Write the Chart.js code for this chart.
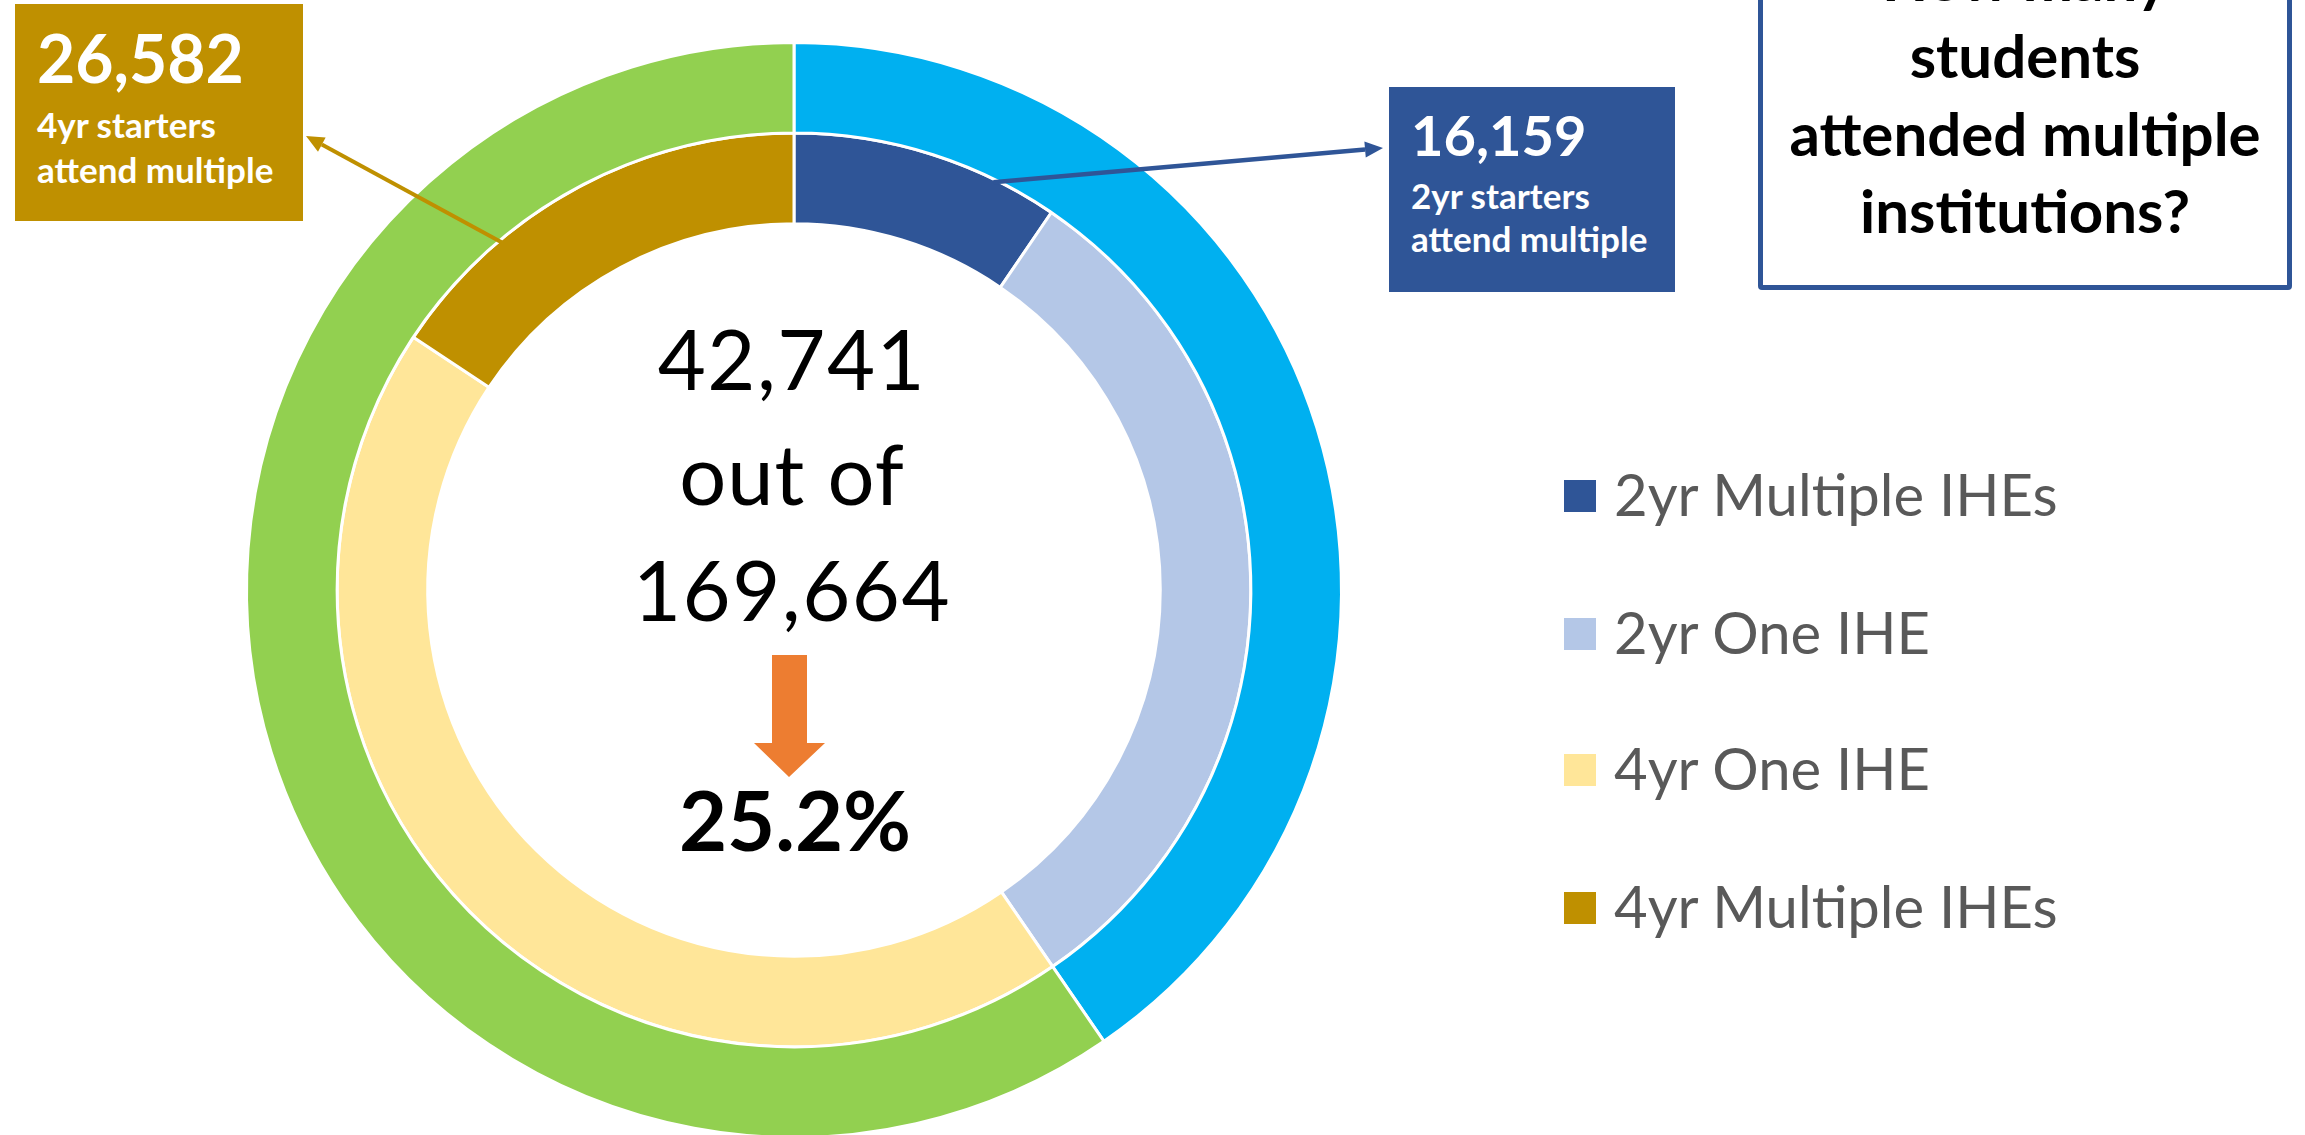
<!DOCTYPE html>
<html>
<head>
<meta charset="utf-8">
<title>Students attending multiple institutions</title>
<script src="https://cdn.jsdelivr.net/npm/chart.js@4.4.1/dist/chart.umd.min.js"></script>
<style>
  html, body { margin: 0; padding: 0; background: #fff; overflow: hidden; }
  #wrap { position: relative; width: 2305px; height: 1135px; overflow: hidden;
          font-family: Lato, "Open Sans", sans-serif; }
  #wrap canvas { position: absolute; left: 0; top: 0; }
  .t { position: absolute; white-space: nowrap; line-height: 1.2; }
  .box { position: absolute; box-sizing: border-box; }
</style>
</head>
<body>
<div id="wrap">
  <canvas id="myChart" width="2305" height="1200"></canvas>
</div>
<script>
// outer ring: where students started
var outerLabels = ['2yr starters', '4yr starters'];
var outerValues = [68580, 101084];
var outerColors = ['#00B0F0', '#92D050'];

// inner ring: one vs multiple institutions
var innerLabels = ['2yr Multiple IHEs', '2yr One IHE', '4yr One IHE', '4yr Multiple IHEs'];
var innerValues = [16159, 52421, 74502, 26582];
var innerColors = ['#2F5597', '#B4C7E7', '#FFE699', '#BF9000'];

var questionLines = ['How many', 'students', 'attended multiple', 'institutions?'];

var wrap = document.getElementById('wrap');

function fmt(n) { return n.toLocaleString('en-US'); }

// place a line of text by its baseline (Lato ascent ~0.987em at line-height 1.2)
function txt(s, x, base, size, weight, color, align, spacing) {
  var d = document.createElement('div');
  d.className = 't';
  d.textContent = s;
  d.style.fontSize = size + 'px';
  d.style.fontWeight = weight;
  d.style.color = color;
  if (spacing) d.style.letterSpacing = spacing + 'px';
  d.style.top = (base - 0.987 * size) + 'px';
  if (align == 'center') {
    d.style.left = (x - 600) + 'px';
    d.style.width = '1200px';
    d.style.textAlign = 'center';
  } else {
    d.style.left = x + 'px';
  }
  wrap.appendChild(d);
  return d;
}

function box(x, y, w, h, css) {
  var d = document.createElement('div');
  d.className = 'box';
  d.style.left = x + 'px';
  d.style.top = y + 'px';
  d.style.width = w + 'px';
  d.style.height = h + 'px';
  for (var k in css) d.style[k] = css[k];
  wrap.appendChild(d);
  return d;
}

function arrowFrom(ctx, arc, frac, tip, color, lw) {
  var a = arc.startAngle + frac * (arc.endAngle - arc.startAngle);
  var r = arc.outerRadius - 3;
  var sx = arc.x + r * Math.cos(a), sy = arc.y + r * Math.sin(a);
  var ang = Math.atan2(tip[1] - sy, tip[0] - sx);
  var hl = 18, hw = 8;
  var bx = tip[0] - hl * Math.cos(ang), by = tip[1] - hl * Math.sin(ang);
  ctx.save();
  ctx.strokeStyle = color;
  ctx.fillStyle = color;
  ctx.lineWidth = lw;
  ctx.beginPath();
  ctx.moveTo(sx, sy);
  ctx.lineTo(bx, by);
  ctx.stroke();
  ctx.beginPath();
  ctx.moveTo(tip[0], tip[1]);
  ctx.lineTo(bx + hw * Math.sin(ang), by - hw * Math.cos(ang));
  ctx.lineTo(bx - hw * Math.sin(ang), by + hw * Math.cos(ang));
  ctx.closePath();
  ctx.fill();
  ctx.restore();
}

var callouts = {
  id: 'callouts',
  afterDatasetsDraw: function(chart) {
    var ctx = chart.ctx;
    var arcs = chart.getDatasetMeta(1).data;
    arrowFrom(ctx, arcs[0], 0.76, [1383, 148], innerColors[0], 4.5);
    arrowFrom(ctx, arcs[3], 0.29, [306, 136], innerColors[3], 4);

    // orange down arrow in the hole
    var cx = arcs[0].x - 5, cy = arcs[0].y - 2;
    ctx.save();
    ctx.fillStyle = '#ED7D31';
    ctx.beginPath();
    ctx.moveTo(cx - 17, cy + 67);
    ctx.lineTo(cx + 18, cy + 67);
    ctx.lineTo(cx + 18, cy + 155);
    ctx.lineTo(cx + 36, cy + 155);
    ctx.lineTo(cx, cy + 189);
    ctx.lineTo(cx - 35, cy + 155);
    ctx.lineTo(cx - 17, cy + 155);
    ctx.closePath();
    ctx.fill();
    ctx.restore();
  }
};

var ctx = document.getElementById('myChart').getContext('2d');
var myChart = new Chart(ctx, {
  type: 'doughnut',
  data: {
    labels: innerLabels,
    datasets: [{
      label: 'Starters',
      data: outerValues,
      backgroundColor: outerColors,
      borderColor: '#ffffff',
      borderWidth: 3
    }, {
      label: 'Institutions',
      data: innerValues,
      backgroundColor: innerColors,
      borderColor: '#ffffff',
      borderWidth: 3
    }]
  },
  options: {
    responsive: false,
    animation: false,
    cutout: '66.9%',
    layout: { padding: { left: 245, right: 962, top: 41, bottom: 61 } },
    plugins: {
      legend: { display: false },
      tooltip: { enabled: false }
    }
  },
  plugins: [callouts]
});

// center text
var multiple = innerValues[0] + innerValues[3];
var total = innerValues.reduce(function(a, b) { return a + b; }, 0);
txt(fmt(multiple), 792, 391, 83, 400, '#000', 'center', 1.5);
txt('out of', 792, 506, 83, 400, '#000', 'center', 1);
txt(fmt(total), 792, 622, 83, 400, '#000', 'center', 1.5);
txt((multiple / total * 100).toFixed(1) + '%', 795, 852, 83, 700, '#000', 'center');

// 4yr callout
box(15, 4, 288, 217, { background: innerColors[3] });
txt(fmt(innerValues[3]), 37, 83, 66, 700, '#fff');
txt('4yr starters', 37, 138, 35, 700, '#fff');
txt('attend multiple', 37, 183, 35, 700, '#fff');

// 2yr callout
box(1389, 87, 286, 205, { background: innerColors[0] });
txt(fmt(innerValues[0]), 1411, 156, 56, 700, '#fff');
txt('2yr starters', 1411, 209, 35, 700, '#fff');
txt('attend multiple', 1411, 252, 35, 700, '#fff');

// question box
box(1758, -100, 534, 390, { border: '5px solid #2F5597', borderRadius: '4px', background: '#fff' });
for (var i = 0; i < questionLines.length; i++) {
  txt(questionLines[i], 2025, 1 + i * 77.5, 60, 700, '#000', 'center');
}

// legend
for (var j = 0; j < innerLabels.length; j++) {
  var cy = [496, 634, 770, 908][j];
  box(1564, cy - 16, 32, 32, { background: innerColors[j] });
  txt(innerLabels[j], 1614, cy + 20, 58, 400, '#595959');
}
</script>
</body>
</html>
